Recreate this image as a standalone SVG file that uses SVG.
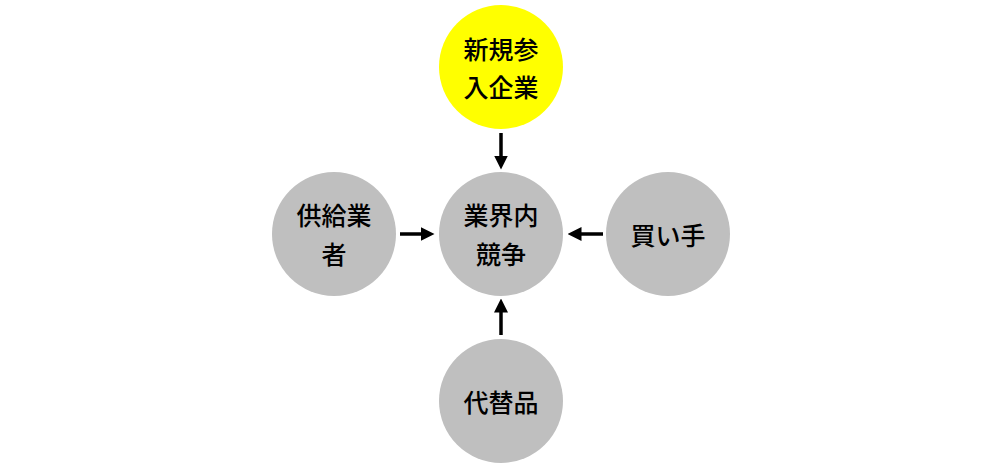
<svg xmlns="http://www.w3.org/2000/svg" width="1002" height="468" viewBox="0 0 1002 468">
<style>
.n{fill:#BFBFBF}
.y{fill:#FFFF00}
.t{font-family:"Noto Sans CJK JP","Noto Sans CJK SC",sans-serif;font-size:25px;font-weight:500;fill:#000;text-anchor:middle;dominant-baseline:central}
.c{stroke:#000;stroke-width:3.5;fill:none;marker-end:url(#ah)}
</style>
<defs>
<marker id="ah" markerWidth="4" markerHeight="4" refX="1" refY="2" orient="auto" markerUnits="strokeWidth">
<path d="M0,0 L4,2 L0,4 Z" fill="#000"/>
</marker>
</defs>
<rect width="1002" height="468" fill="#fff"/>
<g id="connectors">
<line class="c" x1="501" y1="133" x2="501" y2="159"/>
<line class="c" x1="400" y1="234" x2="424" y2="234"/>
<line class="c" x1="603" y1="234" x2="578" y2="234"/>
<line class="c" x1="501" y1="335" x2="501" y2="309"/>
</g>
<g id="new-entrants">
<circle class="y" cx="501" cy="67" r="62"/>
<text class="t" x="501" y="48">新規参</text>
<text class="t" x="501" y="86">入企業</text>
</g>
<g id="rivalry">
<circle class="n" cx="501" cy="234" r="62"/>
<text class="t" x="501" y="214">業界内</text>
<text class="t" x="501" y="253">競争</text>
</g>
<g id="suppliers">
<circle class="n" cx="334" cy="234" r="62"/>
<text class="t" x="334" y="214">供給業</text>
<text class="t" x="334" y="253">者</text>
</g>
<g id="buyers">
<circle class="n" cx="668" cy="234" r="62"/>
<text class="t" x="668" y="234">買い手</text>
</g>
<g id="substitutes">
<circle class="n" cx="501" cy="401" r="62"/>
<text class="t" x="501" y="401">代替品</text>
</g>
</svg>
